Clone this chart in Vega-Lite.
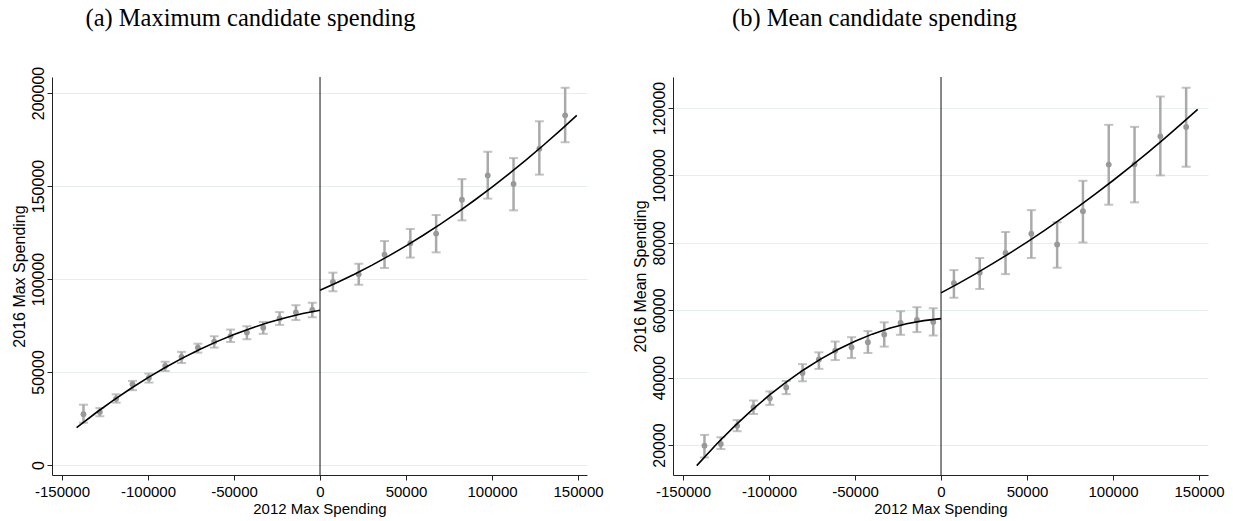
{
  "$schema": "https://vega.github.io/schema/vega-lite/v6.json",
  "padding": {"left": 11, "top": 5, "right": 5, "bottom": 5},
  "background": "white",
  "datasets": {
    "zero": [{"x": 0}],
    "maxpts": [
      {"x": -137500, "y": 27300, "lo": 22700, "hi": 32400},
      {"x": -128000, "y": 28500, "lo": 26200, "hi": 30600},
      {"x": -118500, "y": 35600, "lo": 33500, "hi": 38000},
      {"x": -109000, "y": 43400, "lo": 40200, "hi": 45200},
      {"x": -99500, "y": 46800, "lo": 44300, "hi": 49100},
      {"x": -90000, "y": 53200, "lo": 50500, "hi": 55500},
      {"x": -80500, "y": 58100, "lo": 54800, "hi": 60800},
      {"x": -71000, "y": 63100, "lo": 60400, "hi": 65200},
      {"x": -61500, "y": 66300, "lo": 63100, "hi": 69200},
      {"x": -52000, "y": 69300, "lo": 66100, "hi": 72800},
      {"x": -42500, "y": 71200, "lo": 67600, "hi": 74600},
      {"x": -33000, "y": 73800, "lo": 70500, "hi": 76900},
      {"x": -23500, "y": 78800, "lo": 75300, "hi": 82200},
      {"x": -14000, "y": 82000, "lo": 77900, "hi": 85900},
      {"x": -4500, "y": 83300, "lo": 79400, "hi": 87200},
      {"x": 7500, "y": 98400, "lo": 93400, "hi": 103400},
      {"x": 22500, "y": 102500, "lo": 96900, "hi": 108200},
      {"x": 37500, "y": 113100, "lo": 105900, "hi": 120400},
      {"x": 52500, "y": 119200, "lo": 111500, "hi": 126900},
      {"x": 67500, "y": 124400, "lo": 114300, "hi": 134400},
      {"x": 82500, "y": 142600, "lo": 131500, "hi": 153700},
      {"x": 97500, "y": 155700, "lo": 143200, "hi": 168400},
      {"x": 112500, "y": 151100, "lo": 136900, "hi": 165000},
      {"x": 127500, "y": 170000, "lo": 156100, "hi": 184800},
      {"x": 142500, "y": 188000, "lo": 173500, "hi": 202800}
    ],
    "maxfit": [
      {"x": -141500, "y": 20050, "side": "L"},
      {"x": -130000, "y": 28200, "side": "L"},
      {"x": -120000, "y": 34860, "side": "L"},
      {"x": -110000, "y": 41110, "side": "L"},
      {"x": -100000, "y": 46960, "side": "L"},
      {"x": -90000, "y": 52400, "side": "L"},
      {"x": -80000, "y": 57440, "side": "L"},
      {"x": -70000, "y": 62080, "side": "L"},
      {"x": -60000, "y": 66310, "side": "L"},
      {"x": -50000, "y": 70130, "side": "L"},
      {"x": -40000, "y": 73550, "side": "L"},
      {"x": -30000, "y": 76570, "side": "L"},
      {"x": -20000, "y": 79190, "side": "L"},
      {"x": -10000, "y": 81400, "side": "L"},
      {"x": 0, "y": 83200, "side": "L"},
      {"x": 0, "y": 93900, "side": "R"},
      {"x": 10000, "y": 98070, "side": "R"},
      {"x": 20000, "y": 102540, "side": "R"},
      {"x": 30000, "y": 107330, "side": "R"},
      {"x": 40000, "y": 112420, "side": "R"},
      {"x": 50000, "y": 117820, "side": "R"},
      {"x": 60000, "y": 123520, "side": "R"},
      {"x": 70000, "y": 129530, "side": "R"},
      {"x": 80000, "y": 135850, "side": "R"},
      {"x": 90000, "y": 142470, "side": "R"},
      {"x": 100000, "y": 149400, "side": "R"},
      {"x": 110000, "y": 156640, "side": "R"},
      {"x": 120000, "y": 164180, "side": "R"},
      {"x": 130000, "y": 172030, "side": "R"},
      {"x": 140000, "y": 180190, "side": "R"},
      {"x": 149250, "y": 188000, "side": "R"}
    ],
    "meanpts": [
      {"x": -137500, "y": 19800, "lo": 16300, "hi": 23000},
      {"x": -128000, "y": 20300, "lo": 18800, "hi": 22300},
      {"x": -118500, "y": 25700, "lo": 24100, "hi": 27400},
      {"x": -109000, "y": 31200, "lo": 29200, "hi": 33200},
      {"x": -99500, "y": 33900, "lo": 31900, "hi": 35900},
      {"x": -90000, "y": 37100, "lo": 35100, "hi": 39000},
      {"x": -80500, "y": 41400, "lo": 38900, "hi": 44000},
      {"x": -71000, "y": 45400, "lo": 42600, "hi": 47500},
      {"x": -61500, "y": 48000, "lo": 45200, "hi": 50700},
      {"x": -52000, "y": 49000, "lo": 45800, "hi": 52000},
      {"x": -42500, "y": 50500, "lo": 47300, "hi": 53800},
      {"x": -33000, "y": 52800, "lo": 49200, "hi": 56400},
      {"x": -23500, "y": 56200, "lo": 52700, "hi": 59700},
      {"x": -14000, "y": 57100, "lo": 53500, "hi": 60900},
      {"x": -4500, "y": 56500, "lo": 52500, "hi": 60600},
      {"x": 7500, "y": 68000, "lo": 63700, "hi": 71900},
      {"x": 22500, "y": 71100, "lo": 66300, "hi": 75500},
      {"x": 37500, "y": 77000, "lo": 70700, "hi": 83200},
      {"x": 52500, "y": 82700, "lo": 75500, "hi": 89700},
      {"x": 67500, "y": 79500, "lo": 72600, "hi": 86100},
      {"x": 82500, "y": 89400, "lo": 80100, "hi": 98400},
      {"x": 97500, "y": 103200, "lo": 91300, "hi": 115000},
      {"x": 112500, "y": 103300, "lo": 92000, "hi": 114400},
      {"x": 127500, "y": 111600, "lo": 100000, "hi": 123400},
      {"x": 142500, "y": 114400, "lo": 102600, "hi": 126000}
    ],
    "meanfit": [
      {"x": -142000, "y": 13890, "side": "L"},
      {"x": -130000, "y": 20520, "side": "L"},
      {"x": -120000, "y": 25620, "side": "L"},
      {"x": -110000, "y": 30350, "side": "L"},
      {"x": -100000, "y": 34700, "side": "L"},
      {"x": -90000, "y": 38680, "side": "L"},
      {"x": -80000, "y": 42270, "side": "L"},
      {"x": -70000, "y": 45490, "side": "L"},
      {"x": -60000, "y": 48340, "side": "L"},
      {"x": -50000, "y": 50800, "side": "L"},
      {"x": -40000, "y": 52900, "side": "L"},
      {"x": -30000, "y": 54620, "side": "L"},
      {"x": -20000, "y": 55960, "side": "L"},
      {"x": -10000, "y": 56910, "side": "L"},
      {"x": 0, "y": 57500, "side": "L"},
      {"x": 0, "y": 65140, "side": "R"},
      {"x": 10000, "y": 67900, "side": "R"},
      {"x": 20000, "y": 70790, "side": "R"},
      {"x": 30000, "y": 73810, "side": "R"},
      {"x": 40000, "y": 76940, "side": "R"},
      {"x": 50000, "y": 80220, "side": "R"},
      {"x": 60000, "y": 83610, "side": "R"},
      {"x": 70000, "y": 87150, "side": "R"},
      {"x": 80000, "y": 90800, "side": "R"},
      {"x": 90000, "y": 94580, "side": "R"},
      {"x": 100000, "y": 98490, "side": "R"},
      {"x": 110000, "y": 102530, "side": "R"},
      {"x": 120000, "y": 106700, "side": "R"},
      {"x": 130000, "y": 111000, "side": "R"},
      {"x": 140000, "y": 115410, "side": "R"},
      {"x": 149200, "y": 119600, "side": "R"}
    ]
  },
  "hconcat": [
    {
      "width": 535,
      "height": 398,
      "title": {"text": "(a) Maximum candidate spending", "dx": -69, "offset": 35},
      "layer": [
        {
          "data": {"name": "maxpts"},
          "mark": {"type": "rule", "color": "#aaaaaa", "strokeWidth": 2.5},
          "encoding": {
            "x": {"field": "x", "type": "quantitative", "scale": {"domain": [-155800, 155200], "nice": false, "zero": false},
                  "axis": {"title": "2012 Max Spending", "values": [-150000, -100000, -50000, 0, 50000, 100000, 150000], "grid": false,
                           "labelExpr": "datum.value < 0 ? '-' + format(-datum.value, 'd') : format(datum.value, 'd')"}},
            "y": {"field": "lo", "type": "quantitative", "scale": {"domain": [-5400, 208600], "nice": false, "zero": false},
                  "axis": {"title": "2016 Max Spending", "values": [0, 50000, 100000, 150000, 200000], "format": "d", "grid": true}},
            "y2": {"field": "hi"}
          }
        },
        {
          "data": {"name": "maxpts"},
          "mark": {"type": "tick", "orient": "horizontal", "color": "#aaaaaa", "size": 9, "thickness": 2},
          "encoding": {"x": {"field": "x", "type": "quantitative"}, "y": {"field": "lo", "type": "quantitative"}}
        },
        {
          "data": {"name": "maxpts"},
          "mark": {"type": "tick", "orient": "horizontal", "color": "#aaaaaa", "size": 9, "thickness": 2},
          "encoding": {"x": {"field": "x", "type": "quantitative"}, "y": {"field": "hi", "type": "quantitative"}}
        },
        {
          "data": {"name": "maxpts"},
          "mark": {"type": "circle", "color": "#999999", "size": 34, "opacity": 1},
          "encoding": {"x": {"field": "x", "type": "quantitative"}, "y": {"field": "y", "type": "quantitative"}}
        },
        {
          "data": {"name": "maxfit"},
          "mark": {"type": "line", "color": "#000000", "strokeWidth": 1.6},
          "encoding": {"x": {"field": "x", "type": "quantitative"}, "y": {"field": "y", "type": "quantitative"}, "detail": {"field": "side"}}
        },
        {
          "data": {"name": "zero"},
          "mark": {"type": "rule", "color": "#111111", "strokeWidth": 1},
          "encoding": {"x": {"field": "x", "type": "quantitative"}}
        }
      ]
    },
    {
      "width": 535,
      "height": 398,
      "title": {"text": "(b) Mean candidate spending", "dx": -66, "offset": 45},
      "layer": [
        {
          "data": {"name": "meanpts"},
          "mark": {"type": "rule", "color": "#aaaaaa", "strokeWidth": 2.5},
          "encoding": {
            "x": {"field": "x", "type": "quantitative", "scale": {"domain": [-155800, 155200], "nice": false, "zero": false},
                  "axis": {"title": "2012 Max Spending", "values": [-150000, -100000, -50000, 0, 50000, 100000, 150000], "grid": false,
                           "labelExpr": "datum.value < 0 ? '-' + format(-datum.value, 'd') : format(datum.value, 'd')"}},
            "y": {"field": "lo", "type": "quantitative", "scale": {"domain": [11100, 129200], "nice": false, "zero": false},
                  "axis": {"title": "2016 Mean Spending", "values": [20000, 40000, 60000, 80000, 100000, 120000], "format": "d", "grid": true}},
            "y2": {"field": "hi"}
          }
        },
        {
          "data": {"name": "meanpts"},
          "mark": {"type": "tick", "orient": "horizontal", "color": "#aaaaaa", "size": 9, "thickness": 2},
          "encoding": {"x": {"field": "x", "type": "quantitative"}, "y": {"field": "lo", "type": "quantitative"}}
        },
        {
          "data": {"name": "meanpts"},
          "mark": {"type": "tick", "orient": "horizontal", "color": "#aaaaaa", "size": 9, "thickness": 2},
          "encoding": {"x": {"field": "x", "type": "quantitative"}, "y": {"field": "hi", "type": "quantitative"}}
        },
        {
          "data": {"name": "meanpts"},
          "mark": {"type": "circle", "color": "#999999", "size": 34, "opacity": 1},
          "encoding": {"x": {"field": "x", "type": "quantitative"}, "y": {"field": "y", "type": "quantitative"}}
        },
        {
          "data": {"name": "meanfit"},
          "mark": {"type": "line", "color": "#000000", "strokeWidth": 1.6},
          "encoding": {"x": {"field": "x", "type": "quantitative"}, "y": {"field": "y", "type": "quantitative"}, "detail": {"field": "side"}}
        },
        {
          "data": {"name": "zero"},
          "mark": {"type": "rule", "color": "#111111", "strokeWidth": 1},
          "encoding": {"x": {"field": "x", "type": "quantitative"}}
        }
      ]
    }
  ],
  "resolve": {"scale": {"y": "independent", "x": "independent"}},
  "spacing": 28,
  "config": {
    "view": {"stroke": null},
    "font": "Liberation Sans",
    "title": {"font": "Liberation Serif", "fontSize": 24.5, "fontWeight": "normal", "color": "#000000", "anchor": "middle"},
    "axis": {
      "domainColor": "#222222",
      "tickColor": "#222222",
      "tickSize": 5,
      "labelColor": "#000000",
      "titleColor": "#000000",
      "labelFont": "Liberation Sans",
      "titleFont": "Liberation Sans",
      "titleFontWeight": "normal",
      "gridColor": "#e6eef0",
      "gridWidth": 1
    },
    "axisX": {"labelFontSize": 15, "titleFontSize": 15, "labelPadding": 4, "titlePadding": 2, "labelFlush": false},
    "axisY": {"labelFontSize": 16, "titleFontSize": 16, "labelAngle": -90, "labelAlign": "center", "labelBaseline": "bottom", "labelPadding": 1, "titlePadding": 3}
  }
}
